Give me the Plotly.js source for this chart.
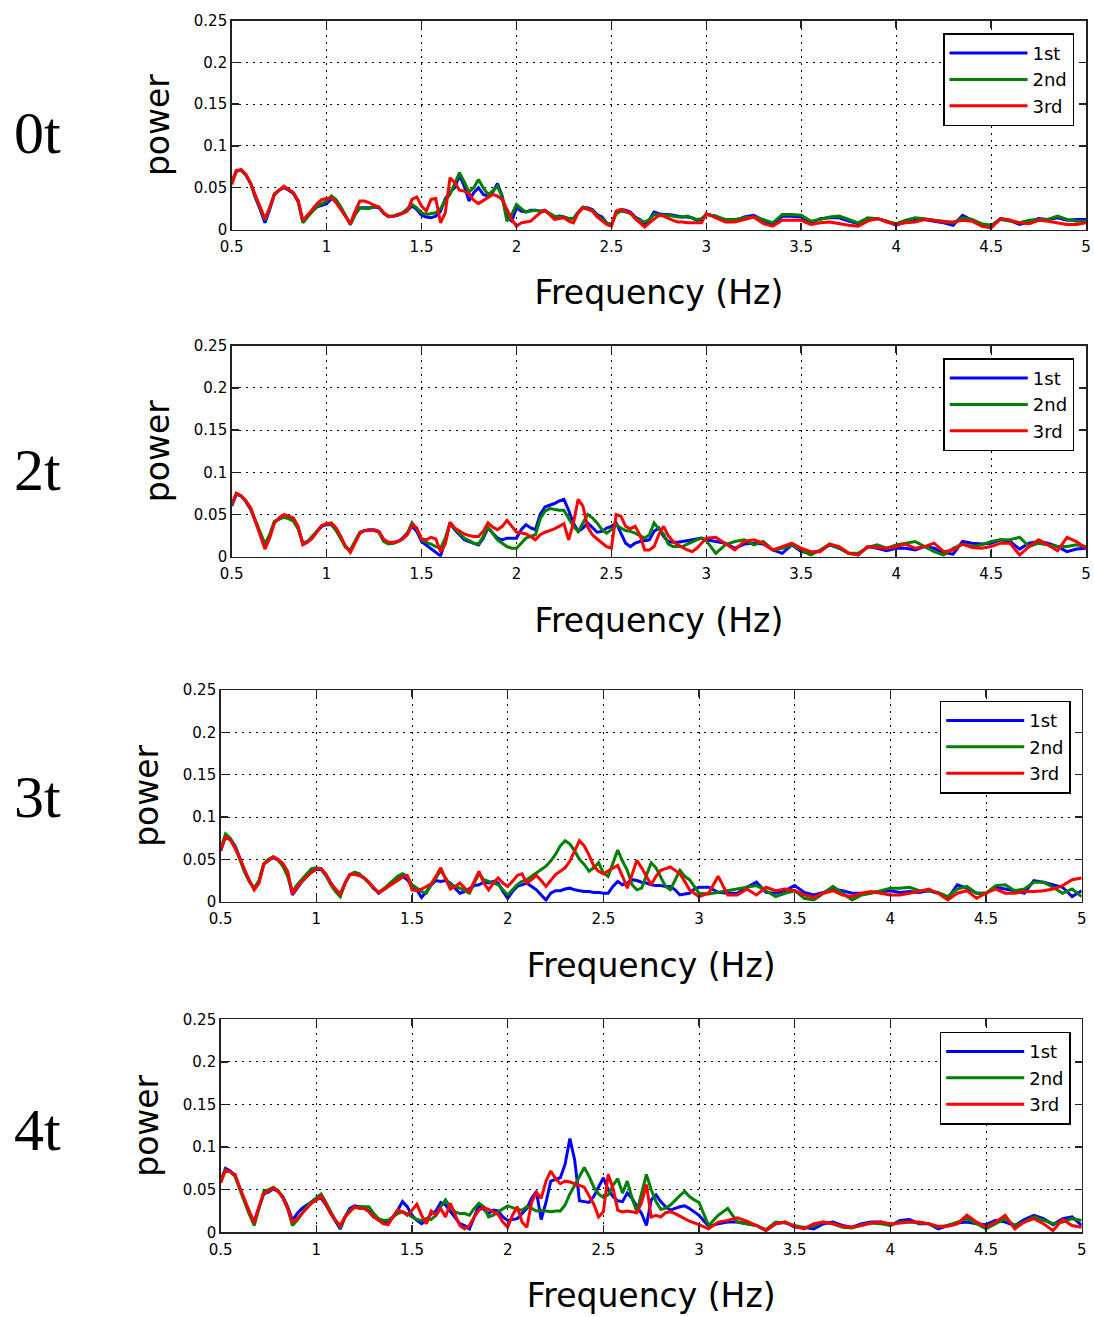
<!DOCTYPE html>
<html>
<head>
<meta charset="utf-8">
<script src="https://cdn.plot.ly/plotly-3.0.1.min.js"></script>
<style>html,body{margin:0;padding:0;background:#fff;}#chart{width:1094px;height:1317px;}</style>
</head>
<body>
<div id="chart"></div>
<script>
// Frequency grid (Hz): 0.025 Hz steps up to 3 Hz, then 0.05 Hz steps to 5 Hz
const freq = [];
for (let i = 0; i <= 100; i++) freq.push(+(0.5 + 0.025 * i).toFixed(3));
for (let j = 1; j <= 40; j++) freq.push(+(3 + 0.05 * j).toFixed(2));

const seriesNames = ['1st', '2nd', '3rd'];
const panelLabels = ['0t', '2t', '3t', '4t'];
const xTitle = 'Frequency (Hz)';
const yTitle = 'power';

// ---- Panel 0t ----
const p0_1st = [
0.057,0.070,0.071,0.065,0.055,0.038,0.024,0.008,0.024,0.042,
0.047,0.050,0.047,0.043,0.033,0.009,0.017,0.022,0.027,0.029,
0.031,0.037,0.034,0.026,0.016,0.006,0.018,0.026,0.026,0.026,
0.027,0.026,0.020,0.016,0.016,0.017,0.020,0.023,0.028,0.024,
0.017,0.015,0.014,0.016,0.022,0.037,0.045,0.050,0.065,0.052,
0.034,0.044,0.050,0.042,0.040,0.045,0.055,0.040,0.015,0.010,
0.026,0.022,0.021,0.023,0.023,0.022,0.023,0.019,0.015,0.016,
0.015,0.013,0.013,0.020,0.026,0.026,0.024,0.018,0.015,0.008,
0.005,0.020,0.024,0.023,0.021,0.015,0.012,0.007,0.012,0.021,
0.019,0.018,0.018,0.017,0.016,0.015,0.015,0.014,0.011,0.012,
0.018,0.016,0.010,0.010,0.015,0.017,0.011,0.006,0.016,0.016,
0.015,0.008,0.013,0.014,0.014,0.010,0.007,0.012,0.013,0.010,
0.005,0.010,0.012,0.012,0.010,0.008,0.005,0.017,0.011,0.006,
0.004,0.013,0.011,0.006,0.009,0.013,0.012,0.014,0.011,0.012,
0.012];
const p0_2nd = [
0.056,0.071,0.071,0.065,0.055,0.039,0.026,0.011,0.026,0.043,
0.047,0.051,0.048,0.044,0.034,0.008,0.015,0.022,0.028,0.031,
0.034,0.040,0.036,0.027,0.016,0.006,0.018,0.026,0.025,0.025,
0.028,0.027,0.019,0.016,0.016,0.018,0.020,0.025,0.030,0.026,
0.020,0.018,0.019,0.020,0.025,0.035,0.042,0.055,0.068,0.057,
0.045,0.050,0.060,0.050,0.042,0.046,0.052,0.038,0.010,0.018,
0.030,0.025,0.021,0.022,0.023,0.022,0.022,0.019,0.016,0.015,
0.015,0.013,0.013,0.021,0.027,0.025,0.023,0.017,0.013,0.008,
0.006,0.019,0.022,0.021,0.019,0.014,0.011,0.009,0.012,0.018,
0.018,0.017,0.017,0.016,0.015,0.015,0.016,0.014,0.012,0.013,
0.018,0.016,0.012,0.012,0.014,0.015,0.012,0.008,0.018,0.018,
0.017,0.010,0.012,0.015,0.016,0.012,0.008,0.014,0.013,0.010,
0.007,0.011,0.014,0.013,0.011,0.010,0.008,0.014,0.012,0.007,
0.005,0.012,0.010,0.008,0.011,0.012,0.012,0.016,0.012,0.010,
0.010];
const p0_3rd = [
0.054,0.070,0.072,0.066,0.055,0.040,0.027,0.013,0.026,0.042,
0.047,0.052,0.048,0.044,0.035,0.011,0.017,0.024,0.031,0.036,
0.037,0.038,0.032,0.024,0.015,0.007,0.022,0.034,0.034,0.032,
0.029,0.027,0.020,0.015,0.016,0.018,0.019,0.022,0.036,0.039,
0.028,0.022,0.036,0.037,0.008,0.020,0.062,0.056,0.047,0.046,
0.043,0.035,0.031,0.035,0.039,0.042,0.040,0.036,0.024,0.012,
0.004,0.008,0.009,0.010,0.015,0.020,0.023,0.017,0.012,0.013,
0.014,0.010,0.008,0.020,0.026,0.024,0.022,0.015,0.011,0.006,
0.004,0.022,0.024,0.022,0.020,0.013,0.008,0.003,0.008,0.013,
0.017,0.016,0.013,0.011,0.009,0.009,0.008,0.008,0.008,0.008,
0.019,0.014,0.009,0.009,0.012,0.015,0.007,0.004,0.011,0.011,
0.011,0.006,0.008,0.009,0.007,0.005,0.004,0.010,0.013,0.009,
0.006,0.008,0.009,0.012,0.011,0.009,0.009,0.011,0.010,0.004,
0.002,0.013,0.011,0.008,0.007,0.011,0.010,0.008,0.006,0.006,
0.008];

// ---- Panel 2t ----
const p2_1st = [
0.060,0.074,0.072,0.065,0.056,0.041,0.028,0.014,0.025,0.041,
0.045,0.048,0.046,0.043,0.034,0.016,0.018,0.023,0.030,0.036,
0.038,0.038,0.032,0.022,0.012,0.007,0.018,0.028,0.031,0.032,
0.032,0.030,0.020,0.016,0.016,0.018,0.022,0.028,0.036,0.030,
0.018,0.014,0.010,0.006,0.001,0.018,0.040,0.032,0.026,0.020,
0.018,0.016,0.014,0.022,0.034,0.028,0.022,0.020,0.022,0.022,
0.022,0.032,0.038,0.034,0.032,0.050,0.059,0.061,0.063,0.066,
0.068,0.055,0.040,0.030,0.034,0.040,0.034,0.029,0.030,0.034,
0.036,0.040,0.028,0.016,0.012,0.016,0.018,0.019,0.020,0.030,
0.034,0.024,0.018,0.017,0.017,0.018,0.019,0.020,0.021,0.022,
0.020,0.018,0.016,0.010,0.015,0.016,0.015,0.008,0.004,0.014,
0.006,0.004,0.007,0.014,0.010,0.004,0.002,0.012,0.010,0.007,
0.010,0.010,0.008,0.012,0.010,0.005,0.003,0.018,0.016,0.015,
0.016,0.020,0.018,0.009,0.016,0.018,0.016,0.012,0.006,0.009,
0.010];
const p2_2nd = [
0.061,0.075,0.072,0.066,0.057,0.042,0.029,0.015,0.026,0.042,
0.045,0.047,0.045,0.042,0.033,0.015,0.018,0.024,0.031,0.037,
0.039,0.038,0.031,0.021,0.011,0.008,0.019,0.029,0.031,0.031,
0.031,0.029,0.018,0.015,0.016,0.018,0.021,0.028,0.040,0.033,
0.020,0.017,0.015,0.012,0.010,0.022,0.040,0.033,0.027,0.022,
0.019,0.016,0.015,0.024,0.035,0.028,0.020,0.016,0.012,0.010,
0.010,0.016,0.022,0.024,0.026,0.045,0.054,0.057,0.056,0.055,
0.055,0.045,0.036,0.030,0.040,0.050,0.046,0.040,0.032,0.028,
0.032,0.038,0.034,0.031,0.030,0.028,0.025,0.022,0.026,0.040,
0.033,0.027,0.015,0.012,0.012,0.012,0.015,0.018,0.020,0.022,
0.019,0.004,0.014,0.018,0.020,0.014,0.018,0.008,0.010,0.014,
0.008,0.002,0.008,0.015,0.010,0.004,0.004,0.011,0.014,0.010,
0.014,0.016,0.018,0.012,0.006,0.002,0.010,0.015,0.012,0.014,
0.018,0.020,0.020,0.023,0.012,0.016,0.014,0.012,0.012,0.014,
0.012];
const p2_3rd = [
0.062,0.075,0.072,0.066,0.058,0.042,0.027,0.009,0.022,0.040,
0.046,0.050,0.048,0.046,0.036,0.014,0.017,0.022,0.030,0.037,
0.039,0.040,0.034,0.024,0.012,0.005,0.016,0.028,0.031,0.031,
0.031,0.030,0.021,0.017,0.017,0.018,0.021,0.026,0.038,0.034,
0.021,0.020,0.023,0.021,0.006,0.015,0.041,0.034,0.030,0.027,
0.025,0.024,0.024,0.030,0.040,0.035,0.032,0.036,0.043,0.036,
0.029,0.028,0.027,0.024,0.020,0.026,0.029,0.031,0.033,0.036,
0.039,0.020,0.040,0.068,0.060,0.035,0.026,0.021,0.016,0.012,
0.010,0.050,0.048,0.036,0.033,0.036,0.026,0.008,0.008,0.012,
0.026,0.036,0.025,0.018,0.014,0.011,0.008,0.006,0.010,0.016,
0.022,0.023,0.016,0.008,0.018,0.020,0.016,0.008,0.012,0.016,
0.010,0.006,0.006,0.015,0.012,0.004,0.002,0.012,0.011,0.010,
0.012,0.015,0.010,0.012,0.016,0.006,0.008,0.015,0.011,0.010,
0.012,0.016,0.016,0.002,0.012,0.020,0.014,0.007,0.023,0.018,
0.010];

// ---- Panel 3t ----
const p3_1st = [
0.060,0.077,0.074,0.066,0.052,0.036,0.024,0.015,0.024,0.044,
0.049,0.052,0.049,0.043,0.032,0.008,0.016,0.024,0.030,0.035,
0.038,0.038,0.031,0.022,0.014,0.008,0.022,0.032,0.033,0.031,
0.028,0.023,0.016,0.010,0.014,0.019,0.023,0.026,0.030,0.026,
0.018,0.014,0.005,0.012,0.020,0.025,0.024,0.025,0.022,0.016,
0.010,0.012,0.016,0.019,0.020,0.023,0.022,0.024,0.022,0.012,
0.004,0.012,0.018,0.020,0.022,0.018,0.014,0.008,0.002,0.010,
0.013,0.013,0.015,0.016,0.014,0.013,0.012,0.012,0.011,0.011,
0.010,0.010,0.018,0.024,0.020,0.022,0.026,0.025,0.023,0.022,
0.020,0.019,0.019,0.018,0.018,0.014,0.008,0.009,0.010,0.015,
0.017,0.017,0.011,0.010,0.010,0.017,0.023,0.011,0.010,0.013,
0.019,0.011,0.008,0.011,0.015,0.013,0.010,0.010,0.011,0.012,
0.013,0.011,0.012,0.011,0.013,0.010,0.004,0.020,0.016,0.010,
0.010,0.017,0.015,0.013,0.010,0.025,0.023,0.020,0.017,0.006,
0.013];
const p3_2nd = [
0.062,0.080,0.075,0.065,0.050,0.035,0.024,0.016,0.025,0.045,
0.050,0.053,0.049,0.042,0.030,0.012,0.020,0.027,0.033,0.039,
0.040,0.039,0.031,0.020,0.012,0.006,0.022,0.032,0.035,0.033,
0.028,0.022,0.015,0.011,0.015,0.020,0.025,0.030,0.033,0.030,
0.020,0.016,0.012,0.010,0.020,0.028,0.037,0.028,0.020,0.018,
0.016,0.013,0.010,0.022,0.033,0.026,0.024,0.022,0.020,0.014,
0.008,0.014,0.020,0.024,0.026,0.030,0.034,0.038,0.042,0.048,
0.056,0.066,0.072,0.068,0.060,0.050,0.044,0.036,0.040,0.046,
0.034,0.030,0.046,0.061,0.048,0.037,0.020,0.014,0.016,0.030,
0.046,0.040,0.028,0.018,0.014,0.026,0.037,0.030,0.026,0.018,
0.010,0.009,0.011,0.013,0.015,0.017,0.019,0.013,0.006,0.010,
0.013,0.004,0.002,0.010,0.018,0.010,0.002,0.008,0.010,0.013,
0.016,0.016,0.017,0.013,0.013,0.011,0.006,0.015,0.018,0.010,
0.010,0.019,0.020,0.013,0.015,0.023,0.023,0.017,0.010,0.015,
0.006];
const p3_3rd = [
0.061,0.076,0.073,0.063,0.051,0.037,0.025,0.014,0.022,0.044,
0.048,0.053,0.050,0.045,0.036,0.009,0.018,0.024,0.030,0.035,
0.039,0.039,0.033,0.022,0.015,0.009,0.022,0.032,0.032,0.031,
0.028,0.023,0.016,0.011,0.014,0.018,0.021,0.025,0.029,0.031,
0.014,0.013,0.015,0.018,0.021,0.030,0.040,0.027,0.015,0.018,
0.022,0.016,0.012,0.024,0.036,0.022,0.014,0.022,0.028,0.022,
0.018,0.024,0.031,0.033,0.022,0.026,0.031,0.025,0.018,0.025,
0.032,0.036,0.040,0.048,0.060,0.072,0.066,0.055,0.042,0.036,
0.033,0.036,0.039,0.043,0.030,0.016,0.032,0.049,0.040,0.030,
0.020,0.030,0.037,0.039,0.041,0.037,0.033,0.024,0.014,0.010,
0.006,0.010,0.030,0.008,0.008,0.015,0.008,0.017,0.013,0.015,
0.013,0.008,0.005,0.010,0.013,0.008,0.006,0.010,0.012,0.010,
0.008,0.008,0.010,0.012,0.015,0.010,0.002,0.010,0.013,0.004,
0.010,0.015,0.010,0.010,0.012,0.012,0.013,0.015,0.019,0.026,
0.028];

// ---- Panel 4t ----
const p4_1st = [
0.060,0.075,0.072,0.066,0.052,0.036,0.022,0.013,0.030,0.045,
0.047,0.051,0.048,0.042,0.030,0.014,0.022,0.028,0.032,0.036,
0.039,0.040,0.032,0.022,0.013,0.004,0.018,0.028,0.031,0.030,
0.029,0.025,0.018,0.015,0.012,0.013,0.018,0.026,0.036,0.030,
0.020,0.014,0.010,0.014,0.022,0.025,0.035,0.032,0.025,0.018,
0.010,0.008,0.004,0.018,0.032,0.027,0.022,0.026,0.025,0.018,
0.014,0.015,0.016,0.022,0.028,0.040,0.048,0.015,0.035,0.060,
0.062,0.064,0.080,0.110,0.085,0.037,0.036,0.035,0.042,0.054,
0.064,0.050,0.042,0.037,0.036,0.046,0.040,0.030,0.022,0.008,
0.038,0.044,0.036,0.030,0.026,0.028,0.030,0.031,0.028,0.024,
0.020,0.007,0.010,0.012,0.012,0.010,0.008,0.002,0.010,0.012,
0.006,0.006,0.004,0.010,0.012,0.008,0.006,0.010,0.012,0.012,
0.008,0.014,0.015,0.010,0.010,0.004,0.008,0.011,0.012,0.010,
0.009,0.014,0.012,0.008,0.015,0.020,0.016,0.009,0.016,0.018,
0.008];
const p4_2nd = [
0.060,0.073,0.071,0.066,0.050,0.035,0.021,0.008,0.028,0.048,
0.050,0.053,0.049,0.041,0.028,0.008,0.014,0.022,0.030,0.036,
0.040,0.045,0.035,0.024,0.014,0.006,0.018,0.026,0.029,0.030,
0.030,0.030,0.022,0.016,0.014,0.014,0.018,0.022,0.024,0.022,
0.018,0.015,0.014,0.016,0.015,0.020,0.030,0.038,0.030,0.024,
0.022,0.022,0.020,0.028,0.034,0.030,0.018,0.020,0.024,0.028,
0.031,0.029,0.027,0.026,0.030,0.028,0.025,0.026,0.025,0.024,
0.025,0.025,0.032,0.045,0.055,0.066,0.076,0.066,0.053,0.045,
0.041,0.044,0.055,0.063,0.046,0.060,0.040,0.024,0.045,0.068,
0.050,0.036,0.027,0.028,0.032,0.038,0.043,0.048,0.042,0.038,
0.035,0.008,0.020,0.028,0.012,0.010,0.008,0.003,0.012,0.011,
0.008,0.005,0.008,0.012,0.010,0.006,0.005,0.009,0.011,0.010,
0.008,0.012,0.012,0.011,0.010,0.006,0.008,0.012,0.016,0.010,
0.004,0.010,0.016,0.008,0.012,0.018,0.014,0.010,0.012,0.016,
0.014];
const p4_3rd = [
0.058,0.073,0.071,0.068,0.052,0.038,0.024,0.011,0.030,0.046,
0.048,0.052,0.048,0.040,0.028,0.012,0.016,0.022,0.028,0.034,
0.038,0.042,0.033,0.022,0.014,0.008,0.018,0.024,0.030,0.028,
0.028,0.024,0.018,0.014,0.010,0.009,0.018,0.026,0.024,0.020,
0.026,0.033,0.020,0.010,0.025,0.020,0.028,0.018,0.034,0.020,
0.008,0.004,0.008,0.018,0.026,0.029,0.027,0.024,0.021,0.012,
0.006,0.020,0.030,0.012,0.006,0.035,0.047,0.040,0.060,0.072,
0.063,0.057,0.060,0.059,0.057,0.055,0.053,0.043,0.033,0.018,
0.024,0.068,0.052,0.026,0.024,0.025,0.024,0.023,0.035,0.056,
0.018,0.020,0.018,0.023,0.024,0.022,0.019,0.016,0.013,0.011,
0.009,0.004,0.012,0.014,0.017,0.013,0.008,0.002,0.010,0.012,
0.007,0.004,0.010,0.012,0.010,0.007,0.006,0.008,0.011,0.012,
0.010,0.011,0.012,0.012,0.010,0.007,0.007,0.010,0.020,0.012,
0.006,0.012,0.020,0.004,0.012,0.016,0.010,0.002,0.015,0.008,
0.006];

const panelData = [
  [p0_1st, p0_2nd, p0_3rd],
  [p2_1st, p2_2nd, p2_3rd],
  [p3_1st, p3_2nd, p3_3rd],
  [p4_1st, p4_2nd, p4_3rd]
];
const colors = ['#0000ff', '#008000', '#ff0000'];

// ---- layout geometry (pixels in a 1094 x 1317 page) ----
const W = 1094, H = 1317;
const boxes = [
  {l: 231.7, r: 1086, t: 20.7, b: 229.5, leg: {r: 1074, t: 33.3}, lab: 133},
  {l: 231.7, r: 1086, t: 345.7, b: 556.7, leg: {r: 1074.3, t: 358.3}, lab: 470},
  {l: 220.7, r: 1081.7, t: 690, b: 901.7, leg: {r: 1070.7, t: 700.7}, lab: 797},
  {l: 220.7, r: 1081.7, t: 1019.3, b: 1232.3, leg: {r: 1070.7, t: 1031.7}, lab: 1130}
];

const tickFont = {family: 'DejaVu Sans, sans-serif', size: 15, color: '#000'};
const titleFont = {family: 'DejaVu Sans, sans-serif', size: 33, color: '#000'};
const legFont = {family: 'DejaVu Sans, sans-serif', size: 18, color: '#000'};

const traces = [];
const layout = {
  width: W, height: H,
  margin: {l: 0, r: 0, t: 0, b: 0},
  paper_bgcolor: '#fff', plot_bgcolor: '#fff',
  annotations: [],
  showlegend: true
};

boxes.forEach((bx, k) => {
  const sfx = k === 0 ? '' : String(k + 1);
  const legName = 'legend' + sfx;
  panelData[k].forEach((ys, s) => {
    traces.push({
      x: freq, y: ys, type: 'scatter', mode: 'lines',
      name: seriesNames[s],
      line: {color: colors[s], width: 3},
      xaxis: 'x' + sfx, yaxis: 'y' + sfx,
      legend: legName, showlegend: true
    });
  });
  const common = {
    showline: true, linecolor: '#222', linewidth: 1.5, mirror: 'ticks',
    ticks: 'inside', ticklen: 7, tickwidth: 1.5, tickcolor: '#222',
    showgrid: true, gridcolor: '#000', gridwidth: 1, griddash: '2px,5px',
    zeroline: false, tickfont: tickFont, fixedrange: true
  };
  layout['xaxis' + sfx] = Object.assign({}, common, {
    domain: [bx.l / W, bx.r / W], anchor: 'y' + sfx,
    range: [0.5, 5], tick0: 0.5, dtick: 0.5, ticklabelstandoff: 3,
    title: {text: xTitle, font: titleFont, standoff: 26}
  });
  layout['yaxis' + sfx] = Object.assign({}, common, {
    domain: [1 - bx.b / H, 1 - bx.t / H], anchor: 'x' + sfx,
    range: [0, 0.25], tick0: 0, dtick: 0.05,
    title: {text: yTitle, font: titleFont, standoff: 14}
  });
  layout[legName] = {
    x: bx.leg.r / W, y: 1 - bx.leg.t / H, xanchor: 'right', yanchor: 'top',
    xref: 'paper', yref: 'paper',
    bgcolor: '#fff', bordercolor: '#000', borderwidth: 1.5,
    font: legFont, itemwidth: 78, traceorder: 'normal'
  };
  layout.annotations.push({
    text: panelLabels[k], xref: 'paper', yref: 'paper',
    x: 37 / W, y: 1 - bx.lab / H, xanchor: 'center', yanchor: 'middle',
    showarrow: false,
    font: {family: 'Liberation Serif, Times New Roman, serif', size: 60, color: '#000'}
  });
});

Plotly.newPlot('chart', traces, layout, {displayModeBar: false, staticPlot: true});
</script>
</body>
</html>
